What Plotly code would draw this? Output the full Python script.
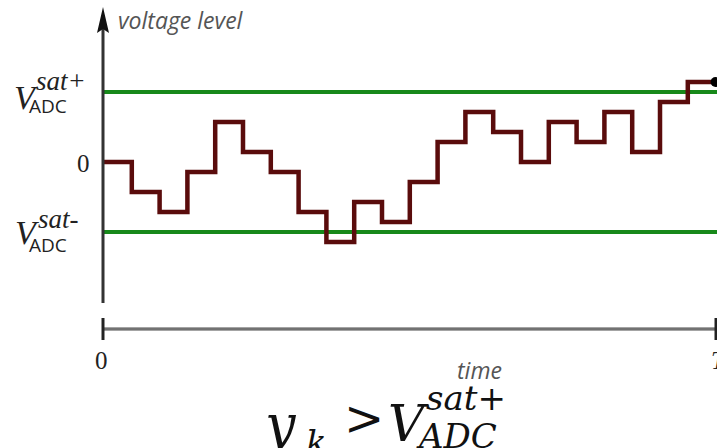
import plotly.graph_objects as go

# staircase of ADC samples (voltage units, one step per sample)
time_steps = list(range(23))
levels = [0, -3, -5, -1, 4, 1, -1, -5, -8, -4, -6, -2, 2, 5, 3, 0, 4, 2, 5, 1, 6, 8, 8]
sat_plus = 7
sat_minus = -7

# pixel -> data helpers for the drawing decorations
X0, DX = 104, 27.8
Y0, DY = 162, 10.0


def xd(px):
    return (px - X0) / DX


def yd(py):
    return (Y0 - py) / DY


fig = go.Figure()

# saturation levels
for lvl in [sat_plus, sat_minus]:
    fig.add_trace(go.Scatter(
        x=[xd(103), xd(717)], y=[lvl, lvl], mode='lines',
        line=dict(color='#17891a', width=4), hoverinfo='skip'
    ))

# sampled signal
fig.add_trace(go.Scatter(
    x=time_steps, y=levels, mode='lines', line_shape='hv',
    line=dict(color='#5a0c0c', width=4.5), hoverinfo='skip'
))
fig.add_trace(go.Scatter(
    x=[time_steps[-1]], y=[levels[-1]], mode='markers',
    marker=dict(color='black', size=10), hoverinfo='skip'
))

# axes drawn by hand
shapes = [
    dict(type='line', x0=xd(103), x1=xd(103), y0=yd(303), y1=yd(26),
         line=dict(color='#333333', width=3)),
    dict(type='path', line=dict(width=0), fillcolor='#111111',
         path=f"M {xd(103)},{yd(7)} L {xd(109)},{yd(33)} L {xd(103)},{yd(29)} L {xd(97)},{yd(33)} Z"),
    dict(type='line', x0=xd(103), x1=xd(716), y0=yd(329), y1=yd(329),
         line=dict(color='#4a4a4a', width=3)),
    dict(type='line', x0=xd(103), x1=xd(716), y0=yd(329), y1=yd(329),
         line=dict(color='#9a9a9a', width=1)),
    dict(type='line', x0=xd(103), x1=xd(103), y0=yd(318), y1=yd(340),
         line=dict(color='#222222', width=3)),
    dict(type='line', x0=xd(716), x1=xd(716), y0=yd(318), y1=yd(340),
         line=dict(color='#222222', width=3)),
]

serif = 'Liberation Serif'
sans = 'Open Sans'
math = 'DejaVu Serif'


def label(text, px, py, size, family, color='#222222', anchor='center'):
    return dict(text=text, x=xd(px), y=yd(py), xref='x', yref='y',
                showarrow=False, xanchor=anchor, yanchor='middle',
                font=dict(size=size, family=family, color=color))


annotations = [
    label('<i>voltage level</i>', 116, 20, 23, sans, '#555555', 'left'),
    label('<i>V</i>', 26, 97, 34, serif),
    label('<i>sat+</i>', 34, 81, 27, serif, anchor='left'),
    label('ADC', 27, 106, 19, sans, anchor='left'),
    label('0', 83, 163, 25, serif),
    label('<i>V</i>', 27, 232, 34, serif),
    label('<i>sat-</i>', 36, 219, 27, serif, anchor='left'),
    label('ADC', 27, 245, 19, sans, anchor='left'),
    label('0', 101, 360, 25, serif),
    label('<i>T</i>', 709, 360, 25, serif, anchor='left'),
    label('<i>time</i>', 479, 370, 23, sans, '#555555'),
    # condition below the chart
    label('<i>y</i>', 261, 424, 54, math, '#111111', 'left'),
    label('<i>k</i>', 304, 442, 34, math, '#111111', 'left'),
    label('>', 342, 418, 48, math, '#111111', 'left'),
    label('<i>V</i>', 386, 424, 50, math, '#111111', 'left'),
    label('<i>sat+</i>', 424, 398, 34, math, '#111111', 'left'),
    label('<i>ADC</i>', 414, 436, 34, math, '#111111', 'left'),
]

fig.update_layout(
    width=717, height=448,
    margin=dict(l=0, r=0, t=0, b=0),
    paper_bgcolor='white', plot_bgcolor='white',
    showlegend=False,
    xaxis=dict(range=[xd(0), xd(717)], visible=False, fixedrange=True),
    yaxis=dict(range=[yd(448), yd(0)], visible=False, fixedrange=True),
    shapes=shapes,
    annotations=annotations,
)

# page body has a default margin; drop it so the figure sits at the corner
fig.write_html('out.html', config={'displayModeBar': False},
               post_script="document.body.style.margin='0';")
